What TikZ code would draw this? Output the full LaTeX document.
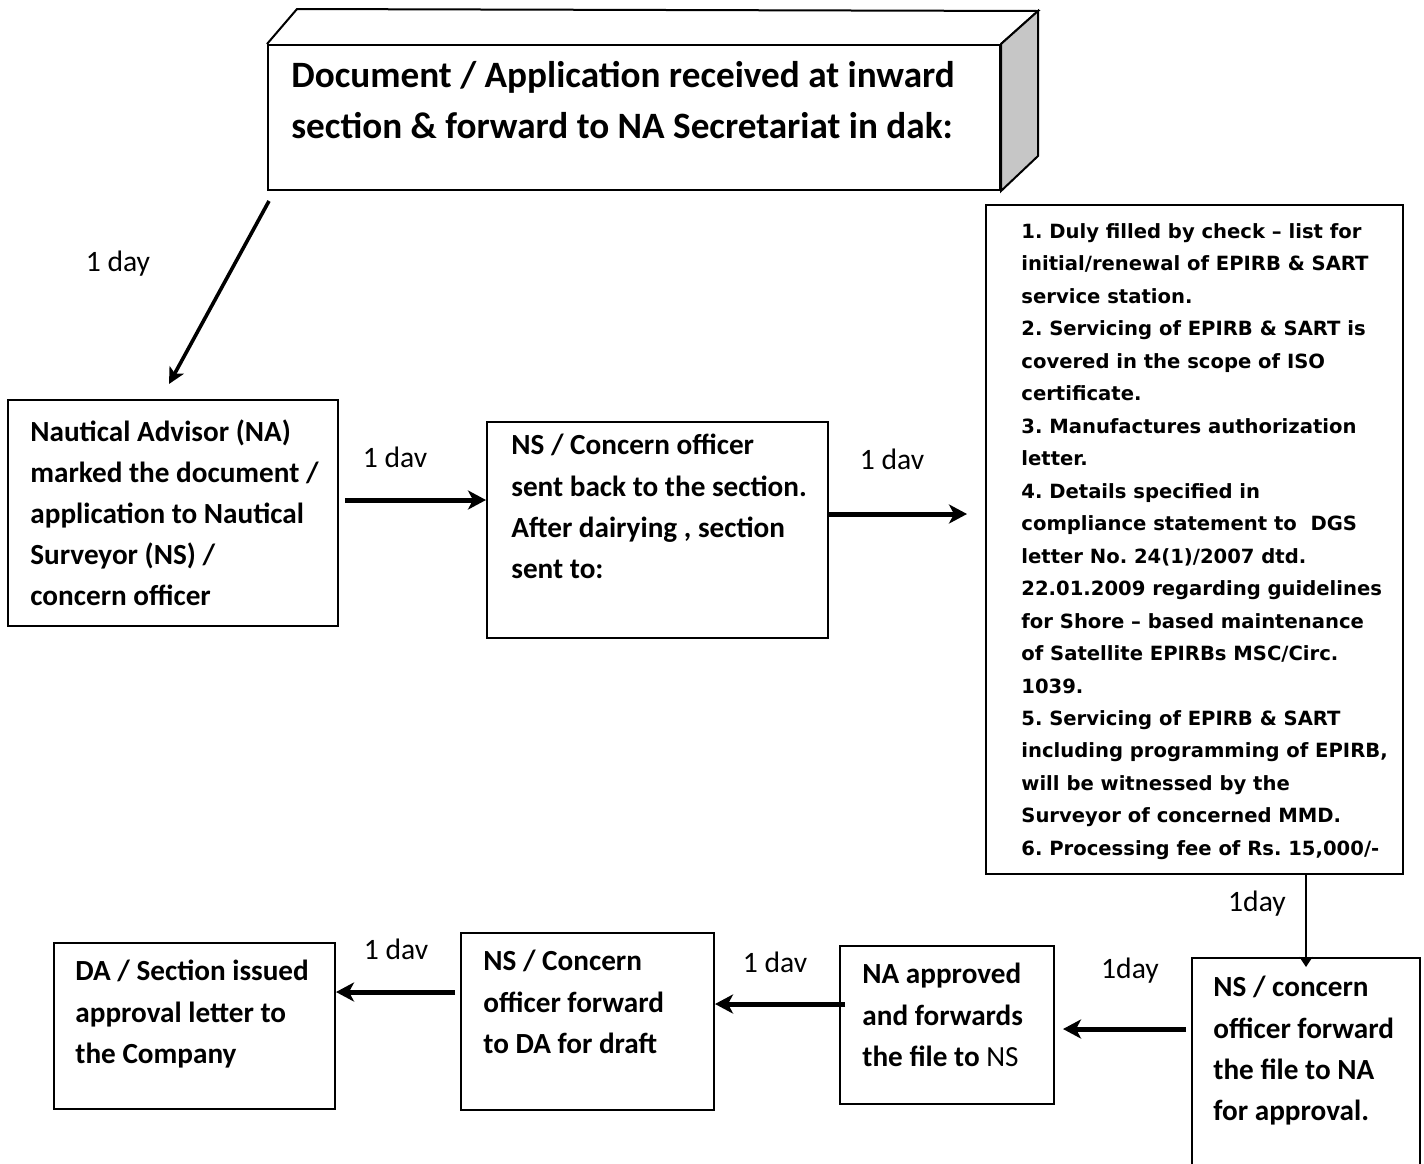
\documentclass[tikz,border=0pt]{standalone}
\usepackage{fontspec}
\setmainfont{Carlito}
\newfontfamily\listfont{DejaVu Sans}
\usetikzlibrary{arrows.meta}
\frenchspacing

\tikzset{
  box/.style={draw, line width=1pt, inner sep=0pt},
  txt/.style={anchor=north west, inner sep=0pt, align=left, font=\bfseries\fontsize{14.6}{20.6}\selectfont},
  lbl/.style={inner sep=0pt, font=\fontsize{14.8}{16}\selectfont},
  flow/.style={line width=2.5pt, -{Stealth[length=9pt,width=9.5pt,inset=2.5pt]}},
}

\begin{document}
\begin{tikzpicture}[x=0.5pt,y=-0.5pt]
  \useasboundingbox (0,0) rectangle (1424,1163);

  % top block with its depth
  \node[box, minimum width=366pt, minimum height=72.5pt] (inward) at (634,117.5) {};
  \draw[line width=1pt] (inward.north west)--([shift={(30,-35)}]inward.north west)--([shift={(37,-33)}]inward.north east)--(inward.north east);
  \draw[line width=1pt, fill=gray!45] (inward.north east)--([shift={(37,-33)}]inward.north east)--([shift={(37,-35)}]inward.south east)--(inward.south east)--cycle;
  \node[txt, font=\bfseries\fontsize{18.6}{25.5}\selectfont] (inwardtxt) at (291,61) {Document / Application received at inward\\section \& forward to NA Secretariat in dak:};

  % middle row
  \node[box, minimum width=165pt, minimum height=113pt] (na) at (173,513) {};
  \node[txt] (natxt) at (30,419) {Nautical Advisor (NA)\\marked the document /\\application to Nautical\\Surveyor (NS) /\\concern officer};

  \node[box, minimum width=170.5pt, minimum height=108pt] (ns) at (657.5,530) {};
  \node[txt] (nstxt) at (511,434) {NS / Concern officer\\sent back to the section.\\After dairying , section\\sent to:};

  \node[box, minimum width=208.5pt, minimum height=334.5pt] (check) at (1194.5,539.5) {};
  \node[txt, font=\listfont\bfseries\fontsize{9.8}{16.24}\selectfont] (checktxt) at (1021,223) {1. Duly filled by check – list for\\initial/renewal of EPIRB \& SART\\service station.\\2. Servicing of EPIRB \& SART is\\covered in the scope of ISO\\certificate.\\3. Manufactures authorization\\letter.\\4. Details specified in\\compliance statement to~~DGS\\letter No. 24(1)/2007 dtd.\\22.01.2009 regarding guidelines\\for Shore – based maintenance\\of Satellite EPIRBs MSC/Circ.\\1039.\\5. Servicing of EPIRB \& SART\\including programming of EPIRB,\\will be witnessed by the\\Surveyor of concerned MMD.\\6. Processing fee of Rs. 15,000/-};

  % bottom row
  \node[box, minimum width=114pt, minimum height=111pt] (nsfwd) at (1306,1069) {};
  \node[txt] (nsfwdtxt) at (1213,976) {NS / concern\\officer forward\\the file to NA\\for approval.};

  \node[box, minimum width=107pt, minimum height=79pt] (approved) at (947,1025) {};
  \node[txt] (approvedtxt) at (862,963) {NA approved\\and forwards\\the file to {\mdseries NS}};

  \node[box, minimum width=126.5pt, minimum height=88.5pt] (draft) at (587.5,1021.5) {};
  \node[txt] (drafttxt) at (483,950) {NS / Concern\\officer forward\\to DA for draft};

  \node[box, minimum width=140.5pt, minimum height=83pt] (letter) at (194.5,1026) {};
  \node[txt] (lettertxt) at (75,960) {DA / Section issued\\approval letter to\\the Company};

  % connectors
  \draw[line width=1.8pt, -{Stealth[length=8pt,width=8pt,inset=2pt]}] ([shift={(2,10)}]inward.south west) -- ([shift={(162,-15)}]na.north west);
  \draw[flow] ([xshift=3pt]na.east |- 0,500) -- (ns.west |- 0,500);
  \draw[flow] (ns.east |- 0,514) -- ([xshift=-9pt]check.west |- 0,514);
  \draw[line width=0.8pt, -{Stealth[length=5pt,width=6.5pt,inset=1pt]}] (nsfwd.north |- check.south) -- ([yshift=-5pt]nsfwd.north);
  \draw[flow] ([xshift=-2.5pt]nsfwd.west |- 0,1029) -- ([xshift=4pt]approved.east |- 0,1029);
  \draw[flow] ([xshift=3pt]approved.west |- 0,1004) -- (draft.east |- 0,1004);
  \draw[flow] ([xshift=-2.5pt]draft.west |- 0,992) -- (letter.east |- 0,992);

  % day labels
  \node[lbl] (d1) at (118,264) {1 day};
  \node[lbl] (d2) at (395,457) {1 dav};
  \node[lbl] (d3) at (892,459) {1 dav};
  \node[lbl] (d4) at (1257,904) {1day};
  \node[lbl] (d5) at (1130,971) {1day};
  \node[lbl] (d6) at (775,962) {1 dav};
  \node[lbl] (d7) at (396,949) {1 dav};
\end{tikzpicture}
\end{document}
